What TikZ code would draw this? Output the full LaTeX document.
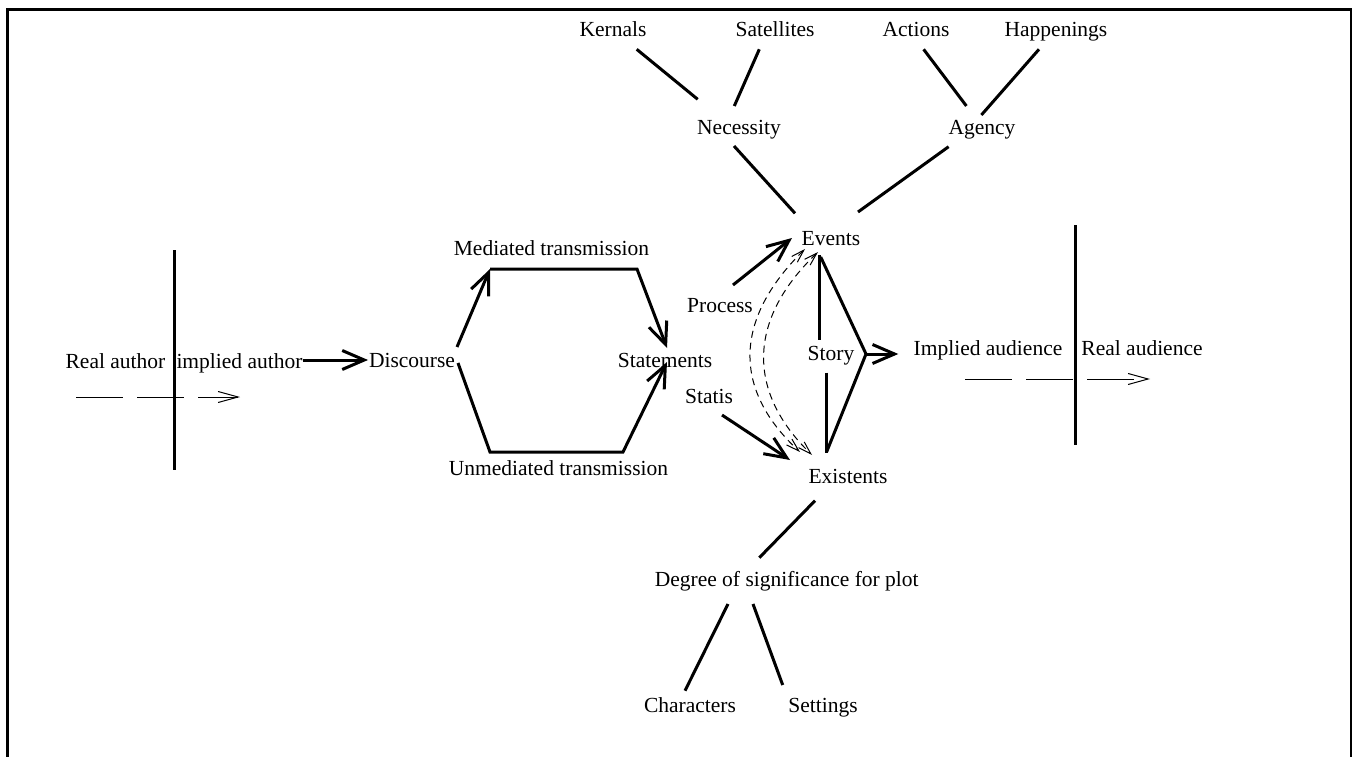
\documentclass[tikz,border=0pt]{standalone}
\usepackage{fontspec}
\setmainfont{Liberation Serif}
\usetikzlibrary{arrows.meta,calc}
\begin{document}
\begin{tikzpicture}[x=1pt,y=-1pt,
  lbl/.style={anchor=base,inner sep=0pt,font=\fontsize{21.5}{24}\selectfont},
  conn/.style={line width=3pt},
  arr/.style={line width=3pt,-{Straight Barb[length=22pt,width=19pt]}},
  thinarr/.style={line width=1pt,dash pattern=on 47pt off 14pt,-{Straight Barb[length=20pt,width=11pt]}},
  arcarr/.style={line width=1pt,dash pattern=on 7pt off 5pt,{Straight Barb[length=13pt,width=8pt]}-{Straight Barb[length=13pt,width=8pt]}},
  bar/.style={line width=3pt},
  frame/.style={line width=2.5pt}]
\useasboundingbox (0,0) rectangle (1353,757);
% frame (open at the bottom)
\draw[frame] (7.5,757) -- (7.5,9.3) -- (1351,9.3) -- (1351,757);

% labels
\node[lbl] (ra)    at (115.5,368) {Real author};
\node[lbl] (ia)    at (239.5,368) {implied author};
\node[lbl] (disc)  at (412,367) {Discourse};
\node[lbl] (med)   at (551.5,255) {Mediated transmission};
\node[lbl] (unmed) at (558.5,475) {Unmediated transmission};
\node[lbl] (stm)   at (665,367) {Statements};
\node[lbl] (proc)  at (720,312) {Process};
\node[lbl] (stt)   at (709,403) {Statis};
\node[lbl] (ev)    at (831,245) {Events};
\node[lbl] (ex)    at (848,483) {Existents};
\node[lbl] (story) at (831,360) {Story};
\node[lbl] (impa)  at (988,355) {Implied audience};
\node[lbl] (rea)   at (1142,355) {Real audience};
\node[lbl] (ker)   at (613,37) {Kernals};
\node[lbl] (sat)   at (775,37) {Satellites};
\node[lbl] (act)   at (916,37) {Actions};
\node[lbl] (hap)   at (1056,37) {Happenings};
\node[lbl] (nec)   at (739,135) {Necessity};
\node[lbl] (ag)    at (982,135) {Agency};
\node[lbl] (deg)   at (786.7,586.7) {Degree of significance for plot};
\node[lbl] (char)  at (690,712) {Characters};
\node[lbl] (set)   at (823,712) {Settings};

% vertical bars
\coordinate (lbt) at (174,250); \coordinate (lbb) at (174,470);
\coordinate (rbt) at (1075,225); \coordinate (rbb) at (1075,445);
\draw[bar] (lbt) -- (lbb);
\draw[bar] (rbt) -- (rbb);

% thin dashed arrows
\draw[thinarr] ($(ra.base)+(-39.5,29)$) -- ($(ia.base)+(0.5,29)$);
\draw[thinarr] ($(impa.base)+(-23,24)$) -- ($(rea.base)+(8,24)$);

% implied author -> discourse
\draw[arr] ($(ia.base)+(63.5,-8)$) -- ($(disc.base)+(-44,-7)$);

% hexagon
\draw[arr] ($(disc.base)+(45,-20)$) -- ($(med.base)+(-61.5,14)$);
\draw[arr] ($(med.base)+(-61.5,14)$) -- ($(med.base)+(85.5,14)$) -- ($(stm.base)+(2,-19)$);
\draw[arr] ($(disc.base)+(46,-4)$) -- ($(unmed.base)+(-68.5,-23)$) -- ($(unmed.base)+(64.5,-23)$) -- ($(stm.base)+(2,-5)$);

% process / statis
\draw[arr] ($(proc.base)+(13,-27)$) -- ($(ev.base)+(-39,-7)$);
\draw[arr] ($(stt.base)+(13,12)$) -- ($(ex.base)+(-58,-23)$);

% dashed double arcs
\draw[arcarr] ($(ev.base)+(-26,4)$) .. controls (733,320) and (733,390) .. ($(ex.base)+(-48,-31)$);
\draw[arcarr] ($(ev.base)+(-13,7)$) .. controls (747,320) and (747,392) .. ($(ex.base)+(-36,-28)$);

% story
\draw[conn] ($(ev.base)+(-11.7,10)$) -- ($(story.base)+(-11.7,-20)$);
\draw[conn] ($(story.base)+(-5,12.7)$) -- ($(ex.base)+(-22,-30)$);
\draw[conn,line join=miter] ($(ev.base)+(-10.3,12)$) -- ($(story.base)+(35,-6)$) -- ($(ex.base)+(-21.3,-31.3)$);
\draw[arr] ($(story.base)+(35,-6)$) -- ($(impa.base)+(-89.7,-1)$);

% upper tree
\draw[conn] ($(ker.base)+(23.7,12.3)$) -- ($(nec.base)+(-41.3,-35.7)$);
\draw[conn] ($(sat.base)+(-15.7,12.3)$) -- ($(nec.base)+(-4.7,-29)$);
\draw[conn] ($(act.base)+(7.6,12.3)$) -- ($(ag.base)+(-15.6,-29)$);
\draw[conn] ($(hap.base)+(-17,12.3)$) -- ($(ag.base)+(-0.6,-20)$);
\draw[conn] ($(nec.base)+(-5,11)$) -- ($(ev.base)+(-36,-31.7)$);
\draw[conn] ($(ag.base)+(-33.4,11.7)$) -- ($(ev.base)+(27,-33)$);

% lower tree
\draw[conn] ($(ex.base)+(-33,17.7)$) -- ($(deg.base)+(-27.4,-29)$);
\draw[conn] ($(deg.base)+(-58.7,17.3)$) -- ($(char.base)+(-5,-21.3)$);
\draw[conn] ($(deg.base)+(-33.7,17.3)$) -- ($(set.base)+(-40.3,-27)$);
\end{tikzpicture}
\end{document}
